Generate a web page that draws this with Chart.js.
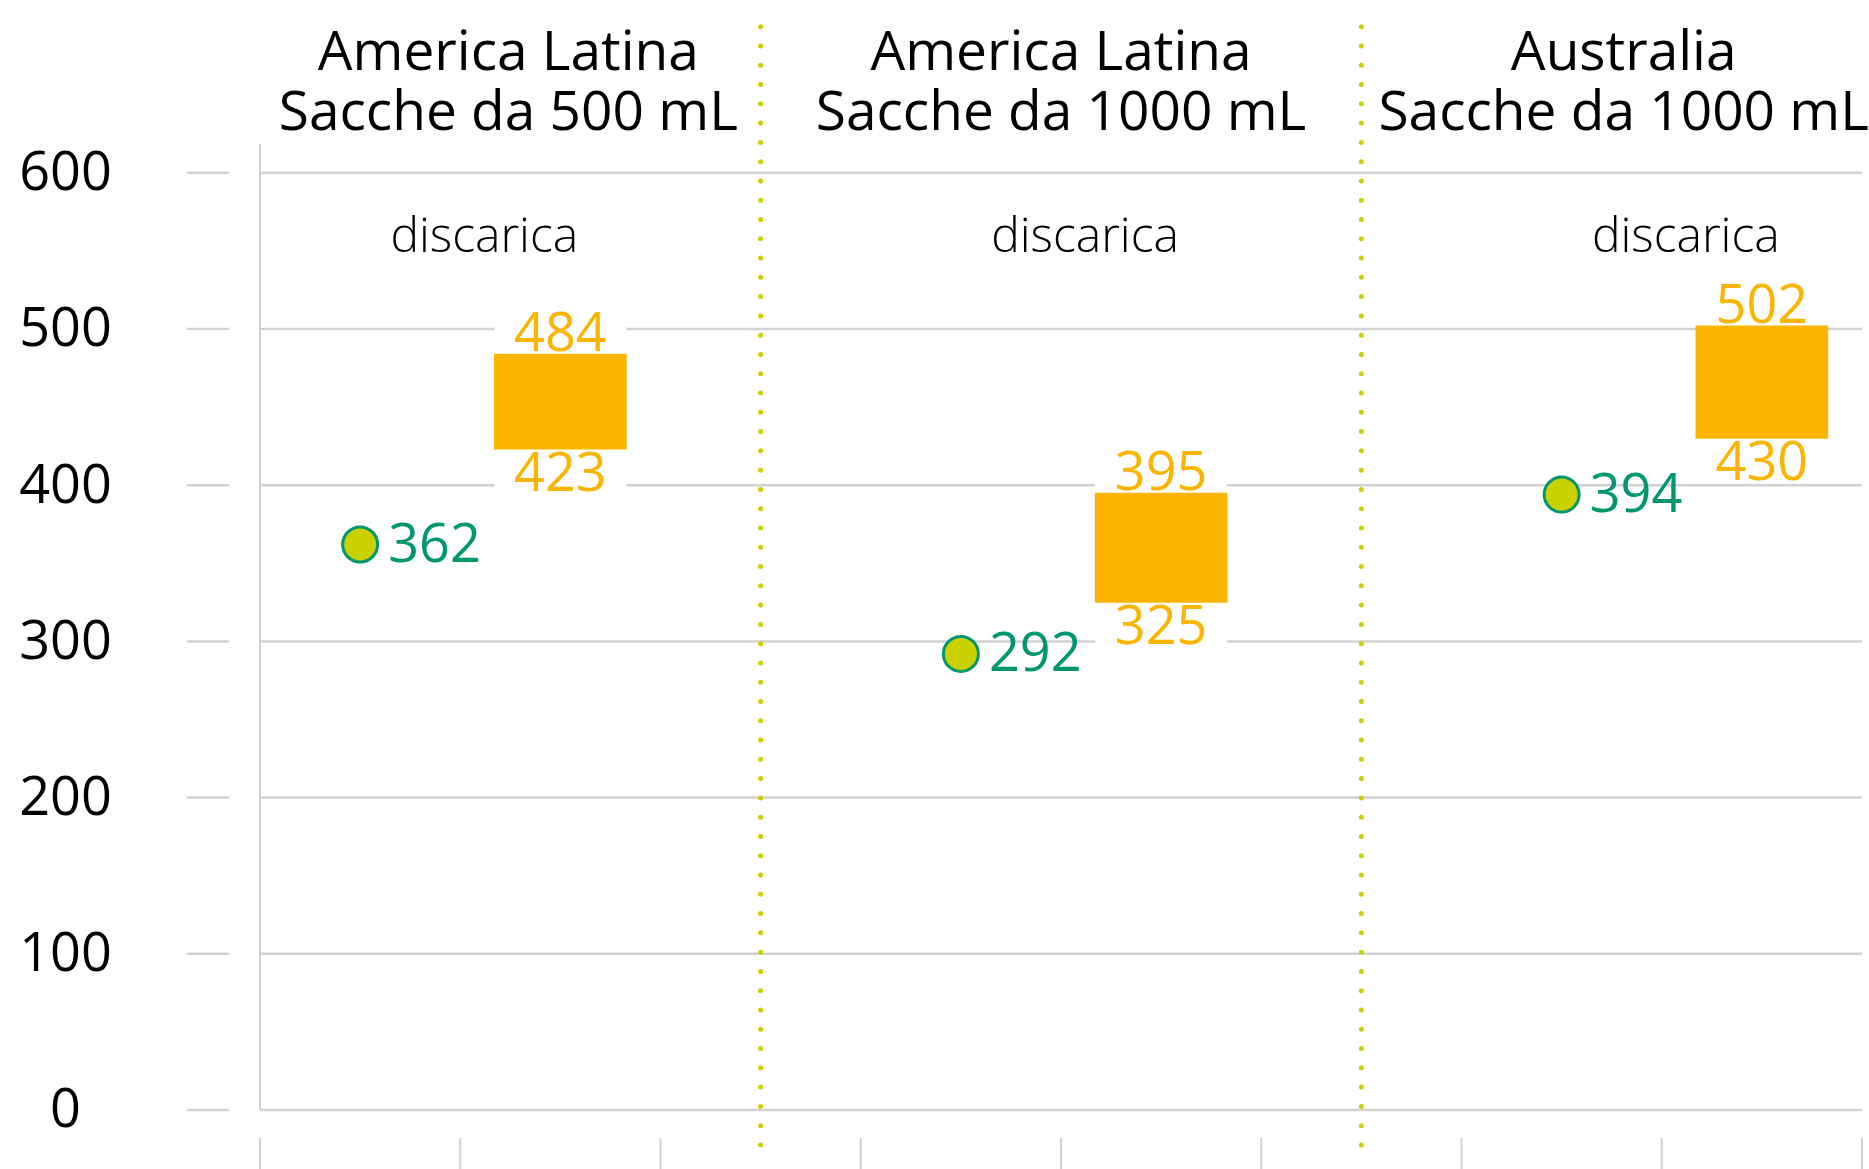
<!DOCTYPE html>
<html>
<head>
<meta charset="utf-8">
<script src="https://cdn.jsdelivr.net/npm/chart.js@4.4.1/dist/chart.umd.min.js"></script>
<style>
  html, body { margin: 0; padding: 0; background: #ffffff; }
  #wrap { width: 1869px; height: 1169px; }
</style>
</head>
<body>
<div id="wrap"><canvas id="c" width="1869" height="1169"></canvas></div>
<script>
// ---- data ----
const groupTitles = [
  ["America Latina", "Sacche da 500 mL"],
  ["America Latina", "Sacche da 1000 mL"],
  ["Australia", "Sacche da 1000 mL"]
];
const rangeLabel = "discarica";
const pointX = [0.5, 3.5, 6.5];
const pointValues = [362, 292, 394];
const barX = [1.5, 4.5, 7.5];
const barLow = [423, 325, 430];
const barHigh = [484, 395, 502];
const yTicks = [0, 100, 200, 300, 400, 500, 600];
const xTicks = [0, 1, 2, 3, 4, 5, 6, 7, 8];
const dividerX = [2.5, 5.5];

// ---- layout / style (not data) ----
const titleX = [1.24, 4.0, 6.81];
const rangeLabelX = [1.12, 4.12, 7.12];
const ORANGE = '#FAB500';
const GREEN = '#00966E';
const LIME = '#C9D100';
const GRID = '#D2D2D2';
const FONT = '"Open Sans", "Noto Sans", sans-serif';

const decor = {
  id: 'decor',
  beforeDatasetsDraw(chart) {
    const ctx = chart.ctx;
    const xs = chart.scales.x, ys = chart.scales.y;
    const area = chart.chartArea;
    ctx.save();
    // horizontal gridlines + tick marks
    ctx.strokeStyle = GRID;
    ctx.lineWidth = 2.5;
    yTicks.forEach(v => {
      const y = ys.getPixelForValue(v);
      ctx.beginPath();
      ctx.moveTo(area.left, y); ctx.lineTo(area.right, y);
      ctx.moveTo(187, y); ctx.lineTo(229, y);
      ctx.stroke();
    });
    // vertical axis line
    ctx.lineWidth = 2;
    ctx.beginPath();
    ctx.moveTo(area.left, 144); ctx.lineTo(area.left, area.bottom);
    ctx.stroke();
    // bottom ticks
    xTicks.forEach(v => {
      const x = xs.getPixelForValue(v);
      ctx.beginPath();
      ctx.moveTo(x, 1138); ctx.lineTo(x, 1169);
      ctx.stroke();
    });
    // y tick labels
    ctx.fillStyle = '#000';
    ctx.font = '400 54px ' + FONT;
    ctx.textAlign = 'center';
    ctx.textBaseline = 'middle';
    yTicks.forEach(v => {
      ctx.fillText(String(v), 65.5, ys.getPixelForValue(v) + 2);
    });
    // white knockouts behind range labels
    const meta = chart.getDatasetMeta(0);
    ctx.fillStyle = '#fff';
    meta.data.forEach((bar, i) => {
      const w = bar.width;
      const top = ys.getPixelForValue(barHigh[i]);
      const bot = ys.getPixelForValue(barLow[i]);
      ctx.fillRect(bar.x - w / 2, top - 44, w, 44);
      ctx.fillRect(bar.x - w / 2, bot, w, 42);
    });
    // dotted dividers
    ctx.strokeStyle = LIME;
    ctx.lineWidth = 5;
    ctx.lineCap = 'round';
    ctx.setLineDash([0, 19.28]);
    dividerX.forEach(v => {
      const x = xs.getPixelForValue(v);
      ctx.beginPath();
      ctx.moveTo(x, 26.7); ctx.lineTo(x, 1147);
      ctx.stroke();
    });
    ctx.restore();
  },
  afterDatasetsDraw(chart) {
    const ctx = chart.ctx;
    const xs = chart.scales.x, ys = chart.scales.y;
    ctx.save();
    // bar labels
    ctx.font = '400 54px ' + FONT;
    ctx.fillStyle = ORANGE;
    ctx.textAlign = 'center';
    barX.forEach((bx, i) => {
      const x = xs.getPixelForValue(bx);
      ctx.textBaseline = 'alphabetic';
      ctx.fillText(String(barHigh[i]), x, ys.getPixelForValue(barHigh[i]) - 3);
      ctx.textBaseline = 'top';
      ctx.fillText(String(barLow[i]), x, ys.getPixelForValue(barLow[i]) - 1);
    });
    // point labels
    ctx.fillStyle = GREEN;
    ctx.textAlign = 'left';
    ctx.textBaseline = 'middle';
    pointX.forEach((px, i) => {
      ctx.fillText(String(pointValues[i]), xs.getPixelForValue(px) + 28, ys.getPixelForValue(pointValues[i]) + 2);
    });
    // range labels
    ctx.fillStyle = '#000';
    ctx.font = '300 48px ' + FONT;
    ctx.textAlign = 'center';
    ctx.textBaseline = 'alphabetic';
    rangeLabelX.forEach(v => {
      ctx.fillText(rangeLabel, xs.getPixelForValue(v), 252);
    });
    // titles
    ctx.font = '500 55px ' + FONT;
    groupTitles.forEach((t, i) => {
      const x = xs.getPixelForValue(titleX[i]);
      ctx.fillText(t[0], x, 70);
      ctx.fillText(t[1], x, 130);
    });
    ctx.restore();
  }
};

new Chart(document.getElementById('c'), {
  type: 'bar',
  data: {
    datasets: [
      {
        type: 'bar',
        label: 'discarica',
        data: barX.map((x, i) => ({ x: x, y: [barLow[i], barHigh[i]] })),
        backgroundColor: ORANGE,
        borderWidth: 0,
        barThickness: 132,
        order: 2
      },
      {
        type: 'scatter',
        label: 'valore',
        data: pointX.map((x, i) => ({ x: x, y: pointValues[i] })),
        backgroundColor: LIME,
        borderColor: GREEN,
        borderWidth: 3,
        pointRadius: 17.5,
        pointHoverRadius: 17.5,
        order: 1
      }
    ]
  },
  options: {
    responsive: false,
    animation: false,
    events: [],
    layout: { autoPadding: false, padding: { left: 260, right: 7, top: 172.8, bottom: 59 } },
    plugins: { legend: { display: false }, tooltip: { enabled: false }, title: { display: false } },
    scales: {
      x: { type: 'linear', min: 0, max: 8, display: false, offset: false },
      y: { type: 'linear', min: 0, max: 600, display: false }
    },
    clip: false
  },
  plugins: [decor]
});
</script>
</body>
</html>
